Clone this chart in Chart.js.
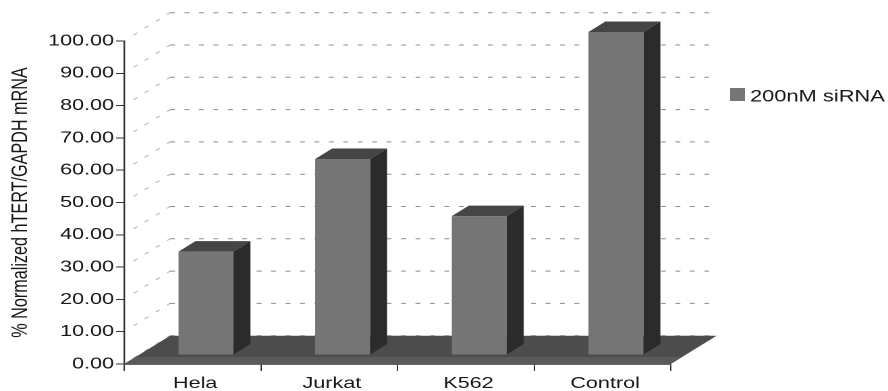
<!DOCTYPE html>
<html>
<head>
<meta charset="utf-8">
<title>hTERT mRNA</title>
<style>
  html, body { margin: 0; padding: 0; background: #fff; overflow: hidden; }
</style>
<script src="https://cdn.jsdelivr.net/npm/chart.js@4"></script>
</head>
<body>
<canvas id="myChart" width="658" height="391"></canvas>
<script>
const categories = ['Hela', 'Jurkat', 'K562', 'Control'];
const siRNA200 = [32, 60.7, 43, 100];
const seriesName = '200nM siRNA';
const yTitle = '% Normalized hTERT/GAPDH mRNA';

// depth of the floor and of the bars, in canvas units
const floorDX = 34, floorDY = 28.3;
const lipDY = 7;
const barShiftX = 10, barShiftY = 9;
const sideDX = 12.6, sideDY = 10.5;

const fontFamily = '"Liberation Sans", Arial, sans-serif';
const textColor = '#161616';

function poly(ctx, pts, color) {
    ctx.fillStyle = color;
    ctx.beginPath();
    pts.forEach((p, i) => i ? ctx.lineTo(p[0], p[1]) : ctx.moveTo(p[0], p[1]));
    ctx.closePath();
    ctx.fill();
}

const box3d = {
    id: 'box3d',
    beforeDatasetsDraw(chart) {
        const ctx = chart.ctx;
        const x = chart.scales.x, y = chart.scales.y;
        const base = y.getPixelForValue(0);

        ctx.save();
        // walls: dashed lines running back from each tick, then across
        y.ticks.forEach(t => {
            const py = y.getPixelForValue(t.value);
            ctx.lineWidth = 1;
            ctx.setLineDash([3.6, 7.1]);
            ctx.strokeStyle = '#b4b4b4';
            ctx.beginPath();
            ctx.moveTo(x.left + 7, py - 6);
            ctx.lineTo(x.left + floorDX, py - floorDY);
            ctx.stroke();
            ctx.strokeStyle = '#8c8c8c';
            ctx.beginPath();
            ctx.moveTo(x.left + floorDX, py - floorDY);
            ctx.lineTo(x.right + floorDX - 2, py - floorDY);
            ctx.stroke();
        });
        ctx.setLineDash([]);

        poly(ctx, [
            [x.left, base],
            [x.right, base],
            [x.right + floorDX, base - floorDY],
            [x.left + floorDX, base - floorDY]
        ], '#4c4c4c');
        // lighter strip along the front edge of the floor
        const lipDX = floorDX * lipDY / floorDY;
        poly(ctx, [
            [x.left, base],
            [x.right, base],
            [x.right + lipDX, base - lipDY],
            [x.left + lipDX, base - lipDY]
        ], '#5a5a5a');
        ctx.restore();
    },
    beforeDatasetDraw(chart, args) {
        const ctx = chart.ctx;
        ctx.save();
        ctx.translate(barShiftX, -barShiftY);
        args.meta.data.forEach(bar => {
            const l = bar.x - bar.width / 2, r = bar.x + bar.width / 2;
            poly(ctx, [
                [l, bar.y], [l + sideDX, bar.y - sideDY],
                [r + sideDX, bar.y - sideDY], [r, bar.y]
            ], '#454545');
            poly(ctx, [
                [r, bar.y], [r + sideDX, bar.y - sideDY],
                [r + sideDX, bar.base - sideDY], [r, bar.base]
            ], '#2b2b2b');
        });
    },
    afterDatasetDraw(chart) {
        chart.ctx.restore();
    },
    afterDraw(chart) {
        // legend
        const ctx = chart.ctx;
        const ds = chart.data.datasets[0];
        ctx.save();
        ctx.fillStyle = ds.backgroundColor;
        ctx.fillRect(541, 88, 11, 13);
        ctx.fillStyle = textColor;
        ctx.font = '16.2px ' + fontFamily;
        ctx.textBaseline = 'alphabetic';
        ctx.fillText(ds.label, 555.8, 101.5);
        ctx.restore();
    }
};

const chart = new Chart(document.getElementById('myChart').getContext('2d'), {
    type: 'bar',
    data: {
        labels: categories,
        datasets: [{
            label: seriesName,
            data: siRNA200,
            backgroundColor: '#757575',
            barPercentage: 0.402,
            categoryPercentage: 1,
            clip: false
        }]
    },
    plugins: [box3d],
    options: {
        responsive: false,
        animation: false,
        devicePixelRatio: 2,
        layout: { padding: { top: 41, right: 161, left: 0, bottom: 0 } },
        plugins: {
            legend: { display: false },
            tooltip: { enabled: false }
        },
        scales: {
            x: {
                afterFit(scale) { scale.height = 27; },
                grid: { drawOnChartArea: false, color: '#333', tickLength: 7 },
                border: { color: '#333', width: 1.2 },
                ticks: {
                    color: textColor,
                    padding: 3,
                    labelOffset: 2,
                    maxRotation: 0,
                    font: { family: fontFamily, size: 16 }
                }
            },
            y: {
                min: 0,
                max: 100,
                afterFit(scale) { scale.width = 92; },
                grid: { drawOnChartArea: false, color: '#333', tickLength: 6 },
                border: { color: '#333', width: 1.2 },
                title: {
                    display: true,
                    text: yTitle,
                    color: textColor,
                    padding: { top: 6, bottom: 0 },
                    font: { family: fontFamily, size: 16.2 }
                },
                ticks: {
                    stepSize: 10,
                    color: textColor,
                    padding: 1.5,
                    font: { family: fontFamily, size: 16 },
                    callback: v => v.toFixed(2)
                }
            }
        }
    }
});

// wide lettering: the canvas is laid out narrow and widened to the page width
chart.canvas.style.width = '888px';
chart.canvas.style.height = '391px';
</script>
</body>
</html>
